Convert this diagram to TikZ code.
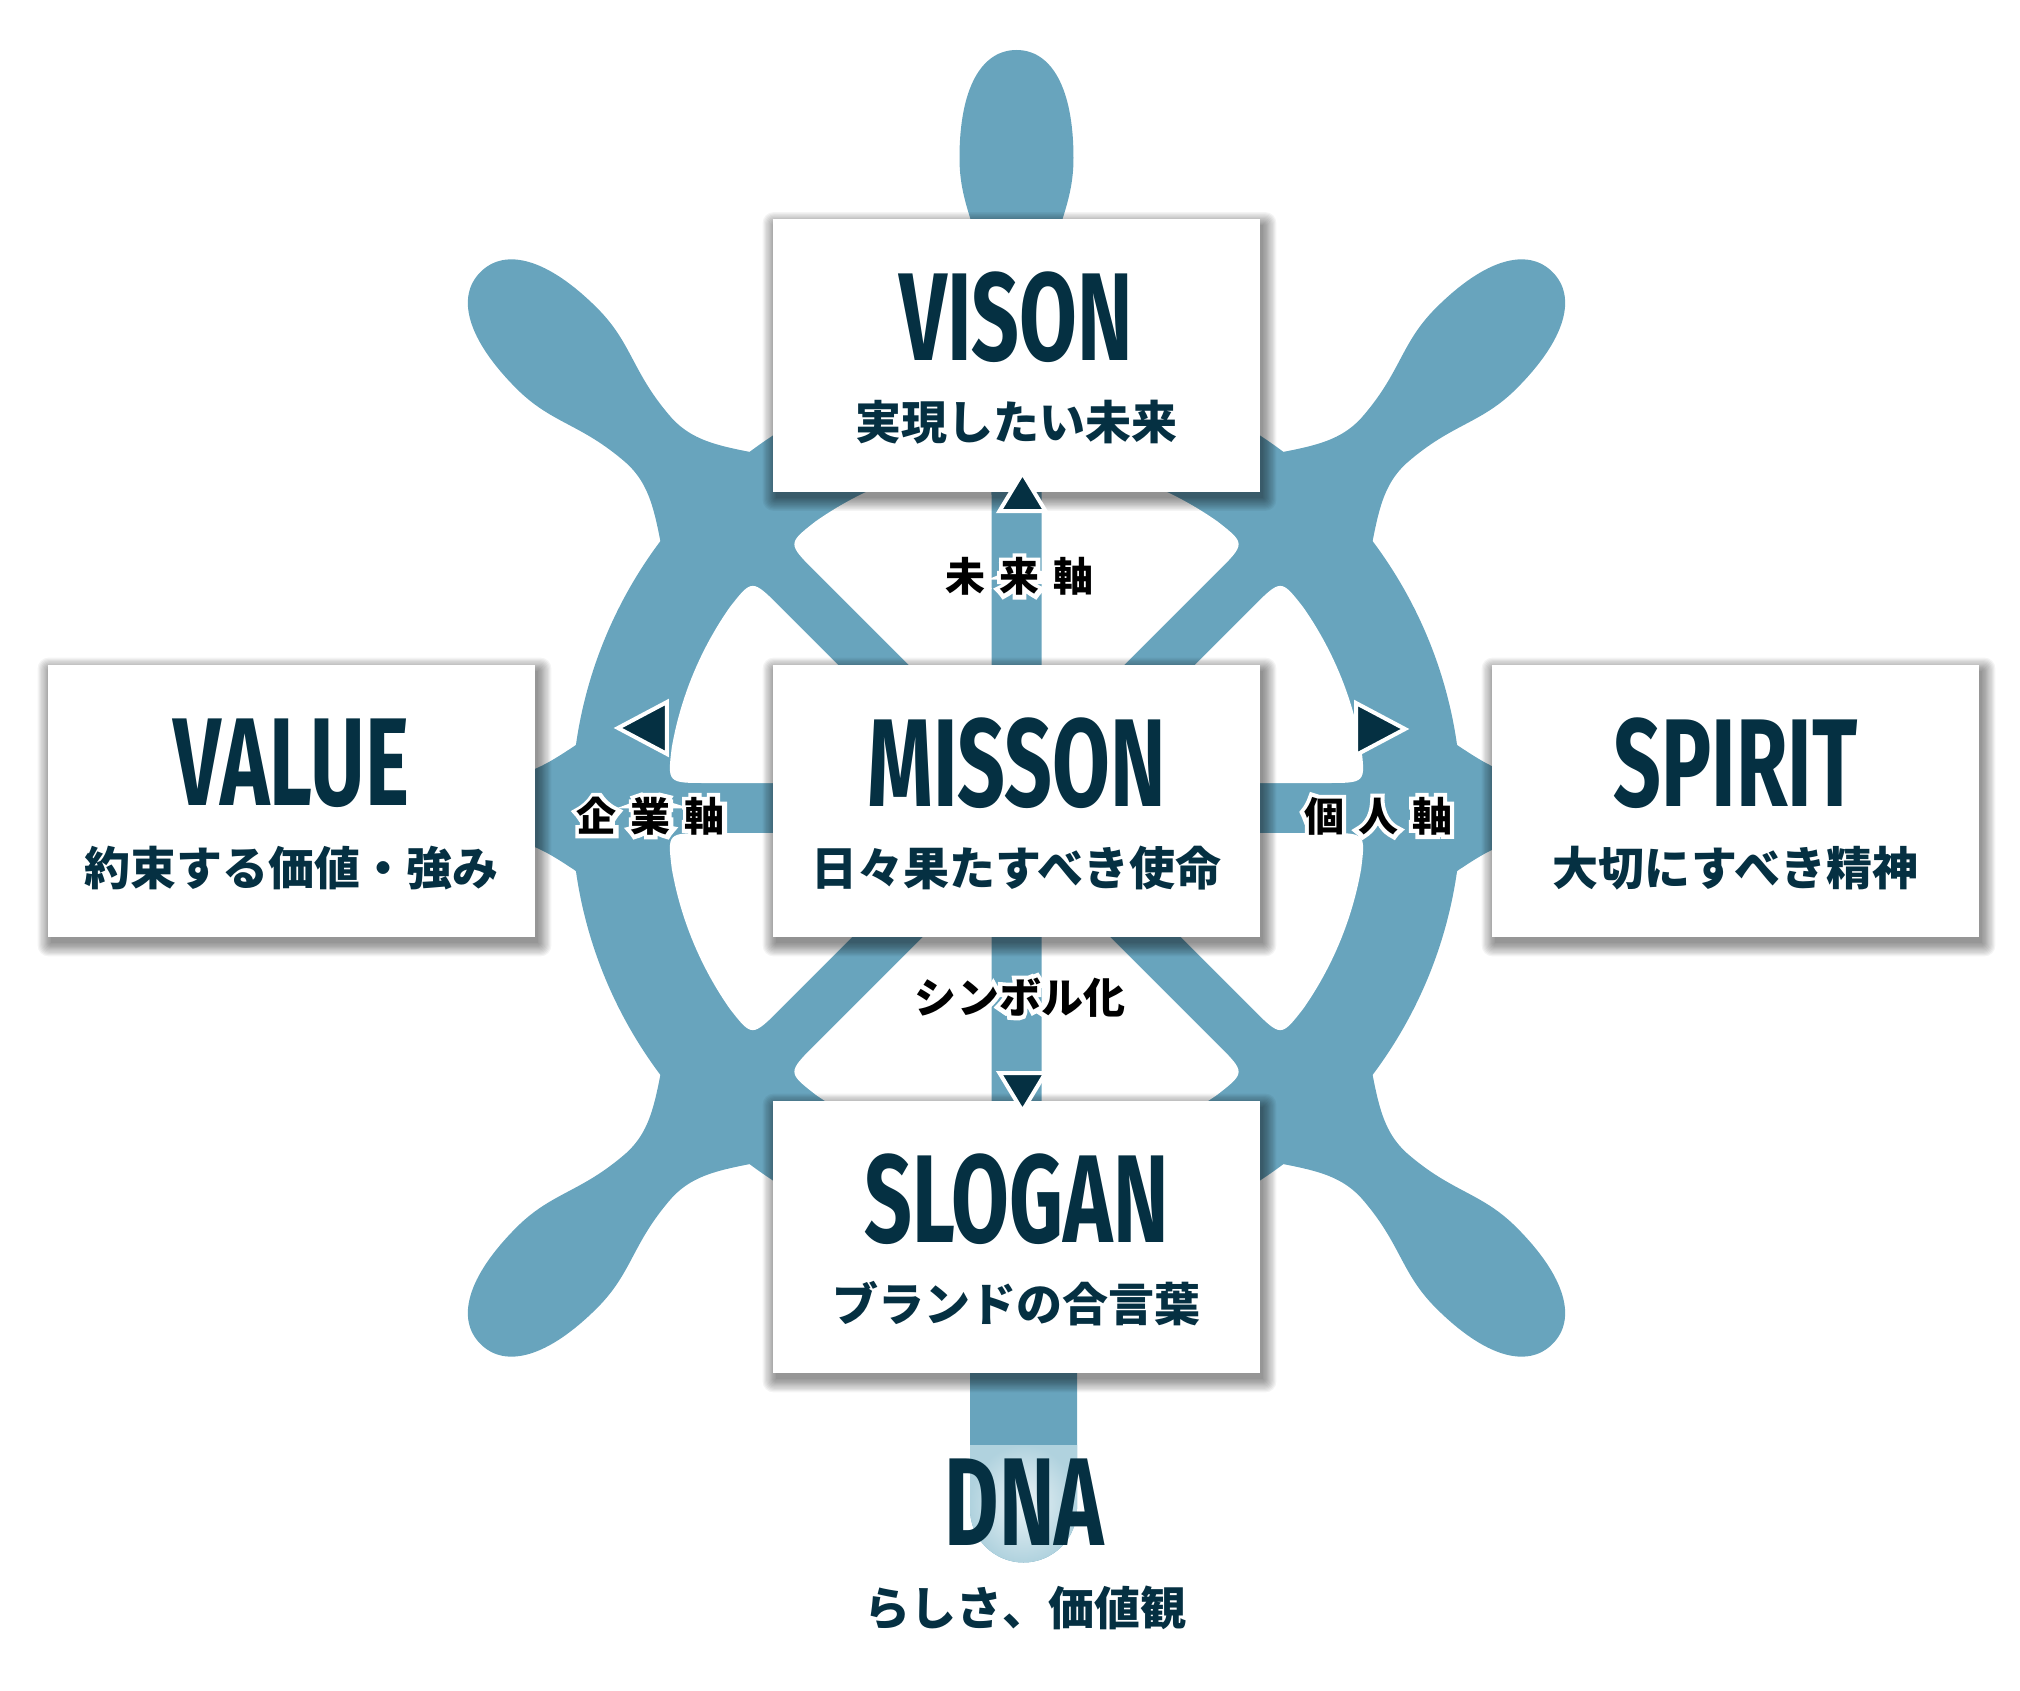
\documentclass[tikz,border=0pt]{standalone}
\usepackage{fontspec}
\usepackage{tikz}
\setmainfont{Noto Sans CJK JP}
\newfontfamily\jpfont{Noto Sans CJK JP}
\newfontfamily\halofont[FakeBold=22]{Noto Sans CJK JP Bold}
\newfontfamily\headfont[FakeStretch=0.67]{Fira Sans}
\definecolor{wheelblue}{RGB}{104,164,189}
\definecolor{navy}{RGB}{5,48,66}
\definecolor{dnalight}{RGB}{236,244,247}
\definecolor{dnaedge}{RGB}{176,210,222}

\pgfdeclarelayer{back}
\pgfdeclarelayer{shade}
\pgfsetlayers{back,shade,main}

\newcommand\halo[1]{\leavevmode\rlap{\color{white}\halofont\mdseries #1}#1}
\newcommand\knobpath{(400,-90) .. controls (455,-55) and (480,-30) .. (520,-32) .. controls (580,-36) and (600,-57) .. (650,-57) .. controls (720,-57) and (758,-35) .. (758,0) .. controls (758,35) and (720,57) .. (650,57) .. controls (600,57) and (580,36) .. (520,32) .. controls (480,30) and (455,55) .. (400,90) -- cycle}
\newcommand\holepath{(60.4,25) -- (310,25) .. controls (349.1,25) .. (10:350) arc[start angle=10, end angle=35, radius=350] .. controls (264.5,229.2) .. (236.2,200.9) -- cycle}

\tikzset{
          panel/.style={fill=white, minimum width=487pt, minimum height=272pt, inner sep=0pt},
          ttl/.style={text=navy, inner sep=0pt, font=\headfont\bfseries\fontsize{125}{125}\selectfont},
          sub/.style={text=navy, inner sep=0pt, font=\jpfont\bfseries\fontsize{46}{46}\selectfont},
          axislbl/.style={text=black, inner sep=0pt, font=\jpfont\bfseries\fontsize{40}{40}\selectfont},
          tri/.style={fill=navy, draw=white, line width=4pt, line join=miter},
          wheel/.style={fill=wheelblue},
          hole/.style={fill=white},
          softshadow/.style={fill=black, opacity=0.045}
        }

\begin{document}
\begin{tikzpicture}[x=1pt, y=1pt]
  \useasboundingbox (-1016.5,-882) rectangle (1003.5,808);

        \begin{pgfonlayer}{back}
          % wheel
          \fill[wheel] (0,0) circle (445);
          \foreach \a in {0,45,90,135,180,225,315} {
            \fill[wheel, rotate=\a] \knobpath;
          }
          \fill[wheel] (-46.5,-400) -- (-46.5,-701) arc[start angle=180, end angle=360, radius=53.5] -- (60.5,-400) -- cycle;
          \shade[inner color=dnalight, outer color=dnaedge] (-46.5,-637) -- (-46.5,-701) arc[start angle=180, end angle=360, radius=53.5] -- (60.5,-637) -- cycle;
          \foreach \a in {0,90,180,270} {
            \fill[hole, rotate=\a] \holepath;
            \fill[hole, rotate=\a, yscale=-1] \holepath;
          }
        \end{pgfonlayer}

          % boxes
          \node[panel] (vision) at (0,452.5) {};
          \node[panel] (mission) at (0,7) {};
          \node[panel] (value) at (-725,7) {};
          \node[panel] (spirit) at (719,7) {};
          \node[panel] (slogan) at (0,-429) {};
          \foreach \n/\t/\s in {vision/VISON/実現したい未来, mission/MISSON/日々果たすべき使命,
              value/VALUE/約束する価値・強み, spirit/SPIRIT/大切にすべき精神, slogan/SLOGAN/ブランドの合言葉} {
            \node[ttl] (\n-ttl) at ([yshift=38pt]\n.center) {\t};
            \node[sub] (\n-sub) at ([yshift=-67pt]\n.center) {\s};
            \begin{pgfonlayer}{shade}
              \foreach \k in {0,...,11} {
                \fill[softshadow, rounded corners=\k pt]
                  ([shift={(3-1.2*\k,-6-1.2*\k)}]\n.south west) rectangle ([shift={(3+1.2*\k,-6+1.2*\k)}]\n.north east);
              }
            \end{pgfonlayer}
          }
          \node[ttl] (dna) at (8,-694.5) {DNA};
          \node[sub] (dna-sub) at (9,-799.5) {らしさ、価値観};

          % axes
          \draw[tri] (6,335) -- (-17,297) -- (29,297) -- cycle;
          \draw[tri] (6,-303) -- (-17,-265) -- (29,-265) -- cycle;
          \draw[tri] (-398.5,80) -- (-349.5,106) -- (-349.5,54) -- cycle;
          \draw[tri] (388.5,79) -- (339.5,105) -- (339.5,53) -- cycle;
          \node[axislbl] (future) at (3,231.5) {\halo{未\hspace{.35em}来\hspace{.35em}軸}};
          \node[axislbl] (company) at (-365.5,-8) {\halo{企\hspace{.35em}業\hspace{.35em}軸}};
          \node[axislbl] (person) at (361.5,-8) {\halo{個\hspace{.35em}人\hspace{.35em}軸}};
          \node[axislbl, font=\jpfont\bfseries\fontsize{42}{42}\selectfont] (symbol) at (3.5,-189.5) {\halo{シンボル化}};

\end{tikzpicture}
\end{document}
